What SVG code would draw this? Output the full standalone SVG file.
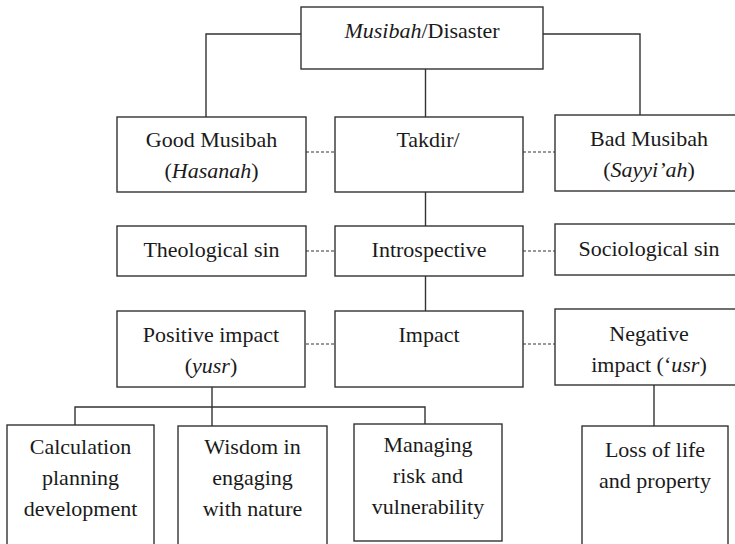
<svg xmlns="http://www.w3.org/2000/svg" width="735" height="544" viewBox="0 0 735 544">
<style>
.box{fill:#fff;stroke:#333;stroke-width:1.4}
.ln{fill:none;stroke:#333;stroke-width:1.4}
.dash{fill:none;stroke:#333;stroke-width:1.2;stroke-dasharray:3 2}
.t{font-family:'Liberation Serif','Times New Roman',serif;font-size:22px;fill:#1a1a1a;text-anchor:middle}
.i{font-style:italic}
</style>
<rect width="735" height="544" fill="#fff"/>
<g id="connectors">
<path class="ln" d="M301 34H206V117"/>
<path class="ln" d="M543 34H640V115"/>
<path class="ln" d="M425.5 69V117"/>
<path class="ln" d="M425.5 192V226"/>
<path class="ln" d="M425.5 276V311"/>
<path class="ln" d="M212 387V426"/>
<path class="ln" d="M75 425V407H425V424"/>
<path class="ln" d="M654 385V426"/>
<path class="dash" d="M306 152H335"/>
<path class="dash" d="M523 152H555"/>
<path class="dash" d="M306 251H335"/>
<path class="dash" d="M523 251H555"/>
<path class="dash" d="M306 344H335"/>
<path class="dash" d="M523 344H555"/>
</g>
<g class="t">
<g id="disaster"><rect class="box" x="301" y="7" width="242" height="62"/><text x="422" y="38"><tspan class="i">Musibah</tspan>/Disaster</text></g>
<g id="good"><rect class="box" x="117" y="117" width="189" height="75"/><text x="211.5" y="147">Good Musibah</text><text x="211.5" y="178">(<tspan class="i">Hasanah</tspan>)</text></g>
<g id="takdir"><rect class="box" x="335" y="117" width="188" height="75"/><text x="428" y="147">Takdir/</text></g>
<g id="bad"><rect class="box" x="555" y="115" width="190" height="76"/><text x="649" y="146">Bad Musibah</text><text x="649" y="177">(<tspan class="i">Sayyi’ah</tspan>)</text></g>
<g id="theological"><rect class="box" x="117" y="226" width="189" height="50"/><text x="211.5" y="257">Theological sin</text></g>
<g id="introspective"><rect class="box" x="335" y="226" width="188" height="50"/><text x="429" y="257">Introspective</text></g>
<g id="sociological"><rect class="box" x="555" y="224" width="190" height="51"/><text x="649" y="256">Sociological sin</text></g>
<g id="positive"><rect class="box" x="117" y="311" width="188" height="76"/><text x="211" y="342">Positive impact</text><text x="211" y="373">(<tspan class="i">yusr</tspan>)</text></g>
<g id="impact"><rect class="box" x="335" y="311" width="188" height="76"/><text x="429" y="342">Impact</text></g>
<g id="negative"><rect class="box" x="555" y="309" width="190" height="76"/><text x="649" y="341">Negative</text><text x="649" y="372">impact (‘<tspan class="i">usr</tspan>)</text></g>
<g id="calculation"><rect class="box" x="7" y="425" width="147" height="130"/><text x="80.5" y="454">Calculation</text><text x="80.5" y="485">planning</text><text x="80.5" y="516">development</text></g>
<g id="wisdom"><rect class="box" x="178" y="426" width="149" height="130"/><text x="252.5" y="454">Wisdom in</text><text x="252.5" y="485">engaging</text><text x="252.5" y="516">with nature</text></g>
<g id="managing"><rect class="box" x="354" y="424" width="148" height="117"/><text x="428" y="452">Managing</text><text x="428" y="483">risk and</text><text x="428" y="514">vulnerability</text></g>
<g id="loss"><rect class="box" x="582" y="426" width="146" height="130"/><text x="655" y="457">Loss of life</text><text x="655" y="488">and property</text></g>
</g>
</svg>
